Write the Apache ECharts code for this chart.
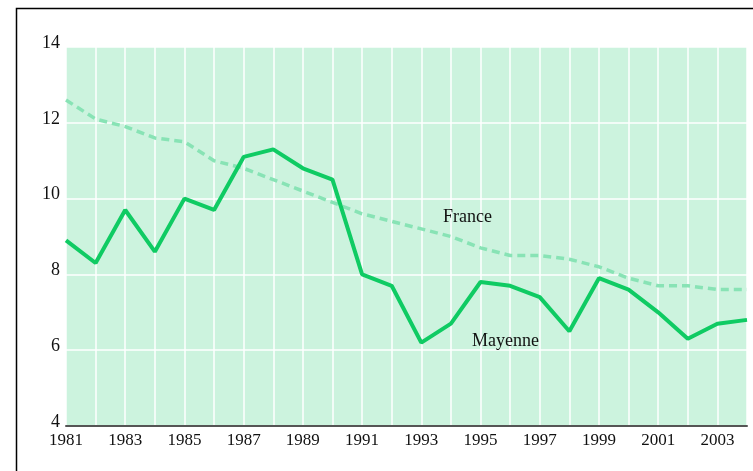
<!DOCTYPE html>
<html><head><meta charset="utf-8">
<script src="https://cdn.jsdelivr.net/npm/echarts@6/dist/echarts.min.js"></script>
<style>html,body{margin:0;padding:0;background:#fff}#c{width:753px;height:471px}</style>
</head><body><div id="c"></div>
<script>
const years = [1981,1982,1983,1984,1985,1986,1987,1988,1989,1990,1991,1992,1993,1994,1995,1996,1997,1998,1999,2000,2001,2002,2003,2004];
const mayenne = [8.9,8.3,9.7,8.6,10.0,9.7,11.1,11.3,10.8,10.5,8.0,7.7,6.2,6.7,7.8,7.7,7.4,6.5,7.9,7.6,7.0,6.3,6.7,6.8];
const france = [12.6,12.1,11.9,11.6,11.5,11.0,10.8,10.5,10.2,9.9,9.6,9.4,9.2,9.0,8.7,8.5,8.5,8.4,8.2,7.9,7.7,7.7,7.6,7.6];
const seriesNames = ['France','Mayenne'];

const chart = echarts.init(document.getElementById('c'));
const font = '"Liberation Serif", "DejaVu Serif", serif';
chart.setOption({
  animation: false,
  backgroundColor: '#fff',
  grid: {left: 66, right: 6, top: 47, bottom: 45, show: true, backgroundColor: '#CCF3DE', borderWidth: 0},
  xAxis: {
    type: 'value', min: 1981, max: 2004, interval: 1,
    axisLine: {show: true, lineStyle: {color: '#555', width: 2}},
    axisTick: {show: false},
    axisLabel: {color: '#111', fontFamily: font, fontSize: 17, margin: 6,
      formatter: v => (v % 2 === 1 ? String(v) : '')},
    splitLine: {show: true, lineStyle: {color: '#fff', width: 1.5}}
  },
  yAxis: {
    type: 'value', min: 4, max: 14, interval: 2,
    axisLine: {show: false}, axisTick: {show: false},
    axisLabel: {color: '#111', fontFamily: font, fontSize: 18, margin: 6,
      lineHeight: 8, verticalAlign: 'bottom'},
    splitLine: {show: true, lineStyle: {color: '#fff', width: 1.5}}
  },
  series: [
    {name: seriesNames[0], type: 'line', symbol: 'none', z: 2,
     data: years.map((y,i)=>[y, france[i]]),
     lineStyle: {color: '#88E3B5', width: 3.5, type: [8,5]}},
    {name: seriesNames[1], type: 'line', symbol: 'none', z: 3,
     data: years.map((y,i)=>[y, mayenne[i]]),
     lineStyle: {color: '#0FCB63', width: 4}}
  ],
  graphic: [
    {type: 'rect', shape: {x: 16.5, y: 8.5, width: 760, height: 480}, style: {fill: 'none', stroke: '#000', lineWidth: 1.5}, z: 100},
    {type: 'text', left: 443, top: 208, style: {text: seriesNames[0], font: '18px ' + font, fill: '#111'}, z: 100},
    {type: 'text', left: 472, top: 332, style: {text: seriesNames[1], font: '18px ' + font, fill: '#111'}, z: 100}
  ]
});
</script></body></html>
